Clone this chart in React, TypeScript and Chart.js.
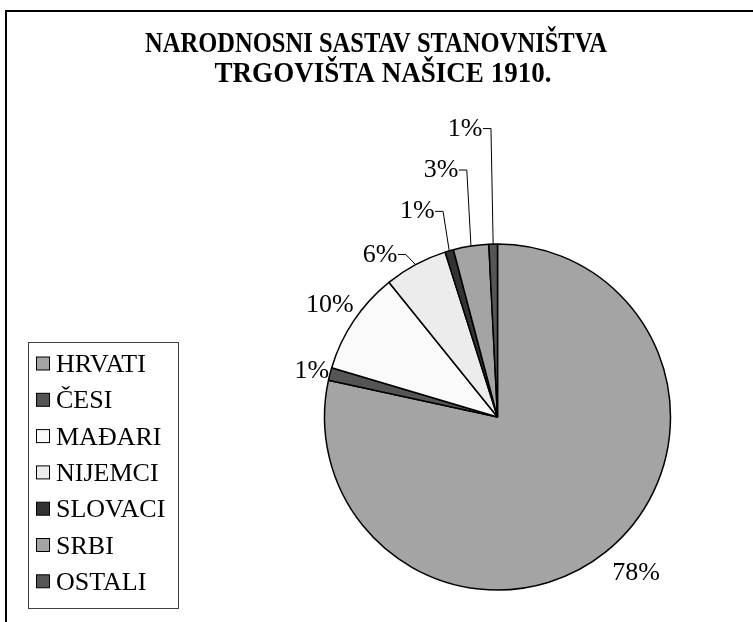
import React, { useEffect, useRef } from "react";
import { Chart, registerables } from "chart.js";

Chart.register(...registerables);

const TITLE_LINES = ["NARODNOSNI SASTAV STANOVNIŠTVA", "TRGOVIŠTA NAŠICE 1910."];
const CATEGORIES = ["HRVATI", "ČESI", "MAĐARI", "NIJEMCI", "SLOVACI", "SRBI", "OSTALI"];
const SHARES = [78.4, 1.2, 9.6, 5.9, 0.8, 3.3, 0.8];
const COLORS = ["#a4a4a4", "#555555", "#fafafa", "#ececec", "#333333", "#a4a4a4", "#555555"];

// layout: label centre offset from the slice's outer-edge midpoint, and whether a leader line is drawn
const LABEL_OFFSETS: [number, number][] = [
  [30, 20], [-18, -4.5], [-24, -17], [-35.6, -11.6], [-32, -41], [-30, -77.5], [-28, -117],
];
const LEADERS = [false, false, false, true, true, true, true];
const TITLE_WIDTHS = [462, 337];

const SERIF = "'Liberation Serif', 'Times New Roman', serif";

const decorPlugin = {
  id: "decor",
  afterDraw(chart: any) {
    const ctx = chart.ctx as CanvasRenderingContext2D;
    const W = chart.width;
    const H = chart.height;
    ctx.save();

    // outer frame (only left + top visible)
    ctx.strokeStyle = "#000";
    ctx.lineWidth = 2;
    ctx.beginPath();
    ctx.moveTo(6, H);
    ctx.lineTo(6, 11);
    ctx.lineTo(W, 11);
    ctx.stroke();

    // title
    ctx.fillStyle = "#000";
    ctx.font = `bold 29px ${SERIF}`;
    ctx.textAlign = "center";
    ctx.textBaseline = "alphabetic";
    const titleBase = [52, 82];
    const titleCx = [376, 383];
    TITLE_LINES.forEach((line, i) => {
      const w = ctx.measureText(line).width;
      ctx.save();
      ctx.translate(titleCx[i], titleBase[i]);
      ctx.scale(TITLE_WIDTHS[i] / w, 1);
      ctx.fillText(line, 0, 0);
      ctx.restore();
    });

    // legend
    ctx.lineWidth = 1;
    ctx.strokeStyle = "#404040";
    ctx.strokeRect(28.5, 342.5, 150, 266);
    ctx.font = `26px ${SERIF}`;
    ctx.textAlign = "left";
    CATEGORIES.forEach((name, i) => {
      const cy = 363.5 + i * 36.3;
      ctx.fillStyle = COLORS[i];
      ctx.fillRect(36.5, cy - 6.5, 13, 13);
      ctx.strokeStyle = "#000";
      ctx.strokeRect(36.5, cy - 6.5, 13, 13);
      ctx.fillStyle = "#000";
      ctx.fillText(name, 56, cy + 8.5);
    });

    // percentage labels
    const meta = chart.getDatasetMeta(0);
    const values: number[] = chart.data.datasets[0].data;
    const total = values.reduce((a, b) => a + b, 0);
    ctx.font = `26px ${SERIF}`;
    ctx.textAlign = "center";
    ctx.lineWidth = 1;
    ctx.strokeStyle = "#000";
    meta.data.forEach((arc: any, i: number) => {
      const p = arc.getProps(["x", "y", "startAngle", "endAngle", "outerRadius"], true);
      const mid = (p.startAngle + p.endAngle) / 2;
      const ex = p.x + Math.cos(mid) * p.outerRadius;
      const ey = p.y + Math.sin(mid) * p.outerRadius;
      const lx = ex + LABEL_OFFSETS[i][0];
      const ly = ey + LABEL_OFFSETS[i][1];
      const text = Math.round((values[i] / total) * 100) + "%";
      ctx.fillStyle = "#000";
      ctx.fillText(text, lx, ly + 8.5);
      if (LEADERS[i]) {
        const w = ctx.measureText(text).width;
        ctx.beginPath();
        ctx.moveTo(lx + w / 2 + 0.5, ly + 1.5);
        ctx.lineTo(lx + w / 2 + 8.5, ly + 1.5);
        ctx.lineTo(ex, ey);
        ctx.stroke();
      }
    });

    ctx.restore();
  },
};

export default function App() {
  const ref = useRef<HTMLCanvasElement>(null);
  useEffect(() => {
    if (!ref.current) return;
    const chart = new Chart(ref.current, {
      type: "pie",
      data: {
        labels: CATEGORIES,
        datasets: [
          {
            data: SHARES,
            backgroundColor: COLORS,
            borderColor: "#000",
            borderWidth: 1.5,
          },
        ],
      },
      options: {
        animation: false,
        responsive: false,
        devicePixelRatio: 1,
        layout: { padding: { left: 323.75, right: 81.75, top: 243.25, bottom: 31.25 } },
        plugins: {
          legend: { display: false },
          tooltip: { enabled: false },
          title: { display: false },
        },
      },
      plugins: [decorPlugin],
    });
    return () => chart.destroy();
  }, []);
  return (
    <div style={{ position: "absolute", left: 0, top: 0, width: 753, height: 622, background: "#fff" }}>
      <canvas ref={ref} width={753} height={622} />
    </div>
  );
}
